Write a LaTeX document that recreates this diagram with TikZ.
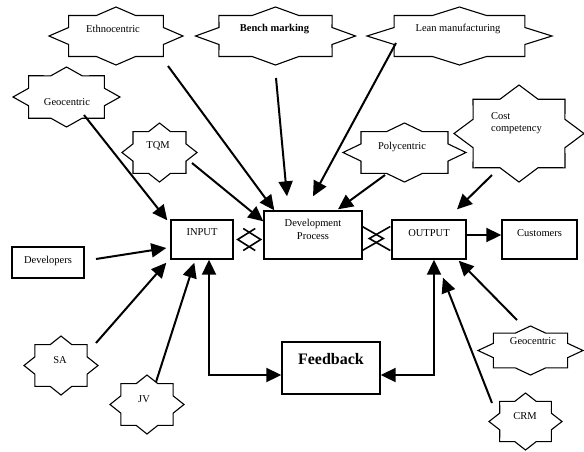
\documentclass[tikz,border=0pt]{standalone}
\usepackage{fontspec}
\setmainfont{Liberation Serif}
\usetikzlibrary{arrows.meta,calc,shapes.geometric}
\tikzset{
 starbox/.style={ellipse, draw=none, inner sep=0pt},
 starline/.style={draw=black, line width=1.1pt, line join=miter},
 lbl/.style={font=\fontsize{10.5}{13}\selectfont, inner sep=0pt, align=center},
 box/.style={draw, line width=1.4pt, inner sep=0pt},
 conn/.style={line width=2pt, -{Triangle[length=15pt,width=14pt]}},
 biconn/.style={line width=2pt, {Triangle[length=15pt,width=14pt]}-{Triangle[length=15pt,width=14pt]}},
 barb/.style={line width=1.6pt}
}
\newcommand\starnode[8]{%
 \node[starbox, minimum width=#4*2pt, minimum height=#5*2pt] (#1) at (#2,#3) {};
 \draw[starline] ({#2+#4},#3) \foreach \k in {1,...,15} { -- ({#2+#4*(1-0.235*mod(\k,2))*cos(22.5*\k)},{#3+#5*(1-0.235*mod(\k,2))*sin(22.5*\k)}) } -- cycle;
 \node[lbl] (#1-t) at ({#2+(#6)},{#3+(#7)}) {#8};
}
\begin{document}
\begin{tikzpicture}[x=1pt,y=-1pt]
\useasboundingbox (0,0) rectangle (584,451);
% stars
\starnode{eth}{116}{36}{67}{29}{-3}{-7}{Ethnocentric}
\starnode{bench}{275.5}{36}{80}{29}{-1}{-7}{\textbf{Bench marking}}
\starnode{lean}{459.5}{36}{92.5}{29}{-1.5}{-7}{Lean manufacturing}
\starnode{geo1}{66.5}{97}{53.5}{30}{0.5}{5}{Geocentric}
\starnode{tqm}{159.5}{152.5}{37.5}{29.5}{-1.5}{-6.5}{TQM}
\starnode{poly}{404.5}{152.5}{61.5}{29.5}{-2.5}{-5.5}{Polycentric}
\starnode{cost}{519}{133.5}{65}{48.5}{-2.5}{-10.5}{\begin{tabular}{@{}l@{}}Cost\\[-1.5pt]competency\end{tabular}}
\starnode{geo2}{530.5}{350.5}{52.5}{24.5}{2.5}{-9.5}{Geocentric}
\starnode{crm}{525.5}{421.5}{36.5}{28.5}{-0.5}{-5.5}{CRM}
\starnode{sa}{61}{365.5}{37}{29.5}{-1}{-5.5}{SA}
\starnode{jv}{147}{404.5}{37}{29.5}{-3}{-5.5}{JV}
% boxes
\node[box, minimum width=62pt, minimum height=39pt] (in) at (202,239.5) {};
\node[lbl] (in-t) at ($(in)+(0,-7)$) {INPUT};
\node[box, minimum width=98pt, minimum height=48pt] (dev) at (313,235) {};
\node[lbl] (dev-t) at ($(dev)+(0,-5.5)$) {Development\\Process};
\node[box, minimum width=74pt, minimum height=39pt] (out) at (429,239.5) {};
\node[lbl] (out-t) at ($(out)+(0,-6.5)$) {OUTPUT};
\node[box, minimum width=75pt, minimum height=39pt] (cust) at (539.5,239.5) {};
\node[lbl] (cust-t) at ($(cust)+(0,-6.5)$) {Customers};
\node[box, minimum width=72pt, minimum height=31pt] (devs) at (48,262.5) {};
\node[lbl] (devs-t) at ($(devs)+(0,-1.5)$) {Developers};
\node[box, minimum width=98pt, minimum height=52pt] (fb) at (331,368) {};
\node[lbl, font=\fontsize{16}{19}\selectfont\bfseries] (fb-t) at ($(fb)+(0,-9)$) {Feedback};
% connectors
\draw[conn] ($(geo1)+(17.5,18)$) -- ($(in.north west)+(-3,1)$);
\draw[conn] ($(tqm)+(32.5,10.5)$) -- ($(dev.north west)+(0,11)$);
\draw[conn] ($(eth)+(52,30)$) -- ($(dev.north west)+(11,0)$);
\draw[conn] ($(bench)+(0.5,42)$) -- ($(dev.north)+(-26,-14)$);
\draw[conn] ($(lean)+(-63.5,7)$) -- ($(dev.north)+(0,-14)$);
\draw[conn] ($(poly)+(-19.5,22.5)$) -- ($(dev.north)+(25,-1)$);
\draw[conn] ($(cost)+(-27,41.5)$) -- ($(out.north)+(28,-10)$);
\draw[conn] ($(devs)+(48,-3.5)$) -- ($(in.west)+(-4,8.5)$);
\draw[conn] ($(sa)+(35,-22.5)$) -- ($(in.south west)+(-4,3)$);
\draw[conn] ($(jv)+(9,-22.5)$) -- ($(in.south west)+(24,3)$);
\draw[biconn] ($(in.south)+(7,0)$) |- ($(fb.west)+(0,7)$);
\draw[biconn] ($(out.south)+(5,0)$) |- ($(fb.east)+(0,7)$);
\draw[conn] ($(out.east)+(0,-4.5)$) -- ($(cust.west)+(0,-4.5)$);
\draw[conn] ($(geo2)+(-13.5,-30.5)$) -- ($(out.south east)+(-8,1)$);
\draw[conn] ($(crm)+(-33.5,-18.5)$) -- ($(out.south)+(14,18)$);
% barbs between boxes
\coordinate (m1) at ($(in.east)+(15.5,0)$);
\draw[barb] ($(m1)+(6,-11)$) -- ($(m1)+(-11.5,0)$) -- ($(m1)+(6,11)$);
\draw[barb] ($(m1)+(-6,-11)$) -- ($(m1)+(11.5,0)$) -- ($(m1)+(-6,11)$);
\coordinate (m2) at ($(out.west)+(-15,-1)$);
\draw[barb] ($(m2)+(14,-12)$) -- ($(m2)+(-7,0)$) -- ($(m2)+(14,12)$);
\draw[barb] ($(m2)+(-14,-12)$) -- ($(m2)+(7,0)$) -- ($(m2)+(-14,12)$);
\end{tikzpicture}
\end{document}
